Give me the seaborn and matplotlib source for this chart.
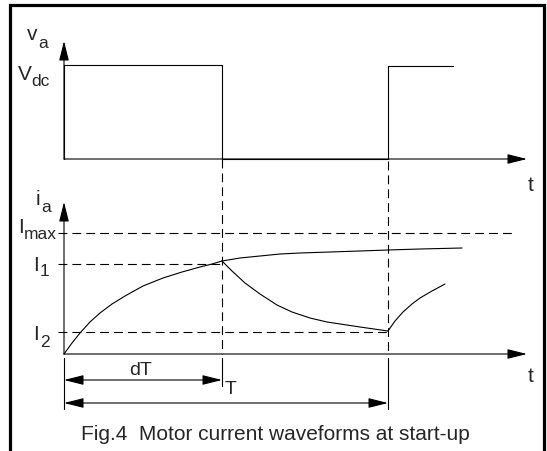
import matplotlib
matplotlib.use("Agg")
import matplotlib.pyplot as plt
import seaborn as sns
import pandas as pd

# figure coordinates in pixels (x to the right, y downward)
x0 = 64          # origin of both time axes
x_dT = 222       # end of on-period
x_T = 388        # end of period
x_end = 527      # tip of the t arrows

# voltage waveform (top)
v_zero = 160
v_dc = 66
volt_x = [x0, x0, x_dT, x_dT, x_T, x_T, 453]
volt_y = [v_zero, v_dc, v_dc, v_zero, v_zero, 67, 67]

# current waveform (bottom)
i_zero = 355
i_max = 234
i_1 = 265
i_2 = 333
rise_x = [64, 72, 80, 90, 100, 112, 125, 143, 163, 182, 200, 212, 222]
rise_y = [355, 344, 334, 323, 314, 305, 297, 287, 279, 273, 268, 265, 262]
steady_x = [222, 240, 260, 280, 300, 330, 360, 388, 420, 462]
steady_y = [262, 259, 257, 255, 254, 253, 252, 251, 250, 249]
decay_x = [222, 232, 245, 260, 277, 292, 310, 327, 360, 388]
decay_y = [262, 272, 284, 295, 306, 313, 319, 323, 328, 332]
ripple_x = [388, 395, 403, 412, 420, 432, 445]
ripple_y = [332, 322, 313, 305, 299, 292, 285]

sns.set_style("white")
plt.rcParams['font.family'] = ['Liberation Sans', 'DejaVu Sans']

fig = plt.figure(figsize=(5.47, 4.52), dpi=100)
ax = fig.add_axes([0, 0, 1, 1])
ax.set_xlim(0, 547)
ax.set_ylim(452, 0)
ax.axis("off")

lw = 0.8
dash = (8, 4.5)

# frame
ax.plot([10, 10, 544, 544], [452, 6, 6, 452], color="black", lw=2.3,
        solid_joinstyle="miter")

# waveforms drawn through seaborn
sns.lineplot(x=volt_x, y=volt_y, sort=False, estimator=None, color="black",
             lw=lw, ax=ax)
for xs, ys in [(rise_x, rise_y), (steady_x, steady_y),
               (decay_x, decay_y), (ripple_x, ripple_y)]:
    sns.lineplot(data=pd.DataFrame({"x": xs, "y": ys}), x="x", y="y",
                 sort=False, estimator=None, color="black", lw=lw, ax=ax)


def arrow(xa, ya, xb, yb, both=False):
    style = "<|-|>" if both else "-|>"
    ax.annotate("", xy=(xb, yb), xytext=(xa, ya),
                arrowprops=dict(arrowstyle=style + ",head_length=1.2,head_width=0.3",
                                color="black", lw=lw, shrinkA=0, shrinkB=0))


# axes
arrow(x0, v_zero, x0, 42)
arrow(x0, v_zero, x_end, v_zero)
arrow(x0, i_zero, x0, 203)
arrow(x0, i_zero, x_end, i_zero)

# dashed guides
ax.plot([58, 512], [i_max, i_max], color="black", lw=lw, dashes=dash)
ax.plot([58, x_dT], [i_1, i_1], color="black", lw=lw, dashes=dash)
ax.plot([58, x_T], [i_2, i_2], color="black", lw=lw, dashes=dash)
ax.plot([x_dT, x_dT], [v_zero, i_zero], color="black", lw=lw, dashes=dash)
ax.plot([x_T, x_T], [v_zero + 2, i_zero], color="black", lw=lw, dashes=dash)

# dimension lines
ax.plot([x0, x0], [359, 410], color="black", lw=lw)
ax.plot([x_dT, x_dT], [359, 387], color="black", lw=lw)
ax.plot([x_T, x_T], [359, 410], color="black", lw=lw)
arrow(x0, 381, x_dT, 381, both=True)
arrow(x0, 404, x_T, 404, both=True)

# labels: main letter right-aligned, subscript left-aligned next to it
fs = 15
sub = 12.5


def label(xm, main, subtxt, ym, ys, gap=1):
    ax.text(xm, ym, main, fontsize=fs, ha="right", va="center")
    ax.text(xm + gap, ys, subtxt, fontsize=sub, ha="left", va="center")


label(37, "v", "a", 35, 43)
label(32, "V", "dc", 75, 81, gap=-1)
label(40, "i", "a", 200, 208)
label(23.5, "I", "max", 228, 235, gap=0)
label(39, "I", "1", 266, 272)
label(39, "I", "2", 335, 343)
ax.text(531, 186, "t", fontsize=fs, ha="center", va="center")
ax.text(531, 377, "t", fontsize=fs, ha="center", va="center")
ax.text(141, 371, "dT", fontsize=fs - 1, ha="center", va="center")
ax.text(231, 390, "T", fontsize=fs - 1, ha="center", va="center")
ax.text(275.5, 435, "Fig.4  Motor current waveforms at start-up",
        fontsize=15, ha="center", va="center")

fig.savefig("out.png", dpi=100)
